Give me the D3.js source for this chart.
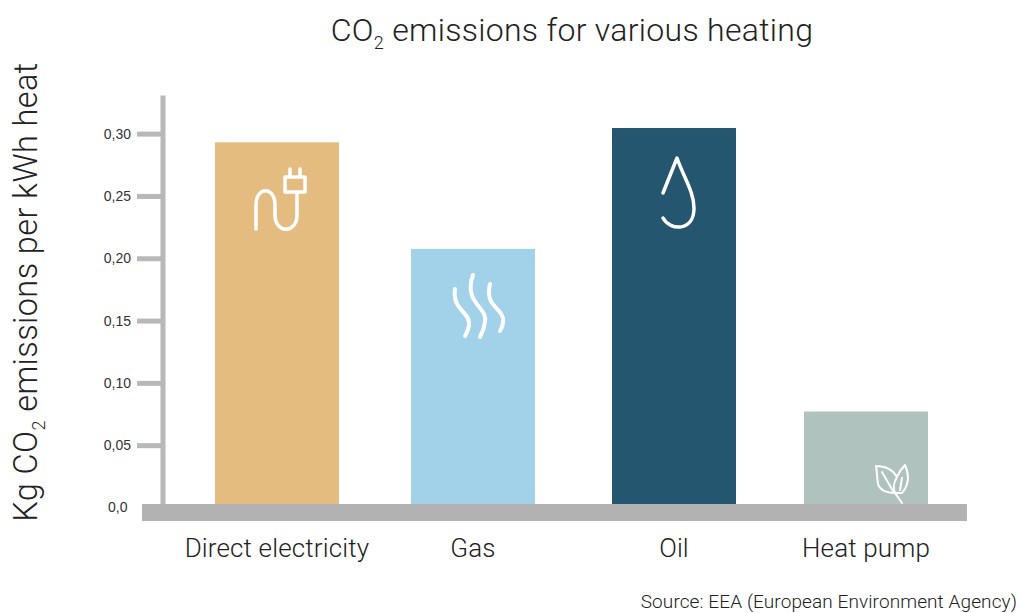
<!DOCTYPE html>
<html>
<head>
<meta charset="utf-8">
<script src="https://cdn.jsdelivr.net/npm/d3@7"></script>
<style>
  html, body { margin: 0; background: #fff; }
  svg { display: block; }
  text { font-family: Roboto, "Liberation Sans", sans-serif; font-weight: 300; fill: #222; }
  .tick text { font-family: "Liberation Sans", sans-serif; font-weight: 400; font-size: 14px; fill: #333; }
</style>
</head>
<body>
<svg id="chart" width="1019" height="613"></svg>
<script>
const categories = ["Direct electricity", "Gas", "Oil", "Heat pump"];
const emissions = [0.293, 0.2075, 0.3045, 0.077];
const barColors = ["#e4bc80", "#a1d2ea", "#24566f", "#b0c2be"];
const tickValues = [0, 0.05, 0.10, 0.15, 0.20, 0.25, 0.30];
const tickLabels = ["0,0", "0,05", "0,10", "0,15", "0,20", "0,25", "0,30"];

const width = 1019, height = 613;
const barWidth = 124;
const svg = d3.select("#chart");

const x = d3.scaleOrdinal().domain(categories).range([215, 411, 612, 804]);
const y = d3.scaleLinear().domain([0, 0.331]).range([507.5, 95]);
const color = d3.scaleOrdinal().domain(categories).range(barColors);

// title, with the subscript as a tspan
const title = svg.append("text")
    .attr("x", 572).attr("y", 41)
    .attr("text-anchor", "middle")
    .attr("font-size", 32)
    .attr("letter-spacing", 0.3);
title.append("tspan").text("CO");
title.append("tspan").attr("font-size", 18).attr("dy", 8).text("2");
title.append("tspan").attr("dy", -8).text(" emissions for various heating");

const yTitle = svg.append("text")
    .attr("transform", "translate(37,292) rotate(-90)")
    .attr("text-anchor", "middle")
    .attr("font-size", 32.5)
    .attr("letter-spacing", 0.4);
yTitle.append("tspan").text("Kg CO");
yTitle.append("tspan").attr("font-size", 18).attr("dy", 8).text("2");
yTitle.append("tspan").attr("dy", -8).text(" emissions per kWh heat");

// y axis
const axis = svg.append("g")
    .attr("transform", "translate(162.5,0)")
    .call(d3.axisLeft(y)
      .tickValues(tickValues)
      .tickFormat(function (d, i) { return tickLabels[i] })
      .tickSize(25.5)
      .tickSizeOuter(0)
      .tickPadding(6));
axis.selectAll("path, line").attr("stroke", "#b8b8b8").attr("stroke-width", 5);
axis.selectAll(".tick").filter(function (d) { return d === 0 }).select("line").remove();
axis.selectAll(".tick").filter(function (d) { return d === 0 }).select("text").attr("x", -35);

// bars
svg.append("g")
  .selectAll("rect")
  .data(categories)
  .join("rect")
    .attr("x", function (d) { return x(d) })
    .attr("y", function (d, i) { return y(emissions[i]) })
    .attr("width", barWidth)
    .attr("height", function (d, i) { return y(0) - y(emissions[i]) })
    .attr("fill", function (d) { return color(d) });

// floor band
svg.append("rect")
    .attr("x", 142).attr("y", 504)
    .attr("width", 825).attr("height", 17)
    .attr("fill", "#b2b2b2");

svg.append("g")
    .attr("text-anchor", "middle")
    .attr("font-size", 26)
    .attr("letter-spacing", 0.15)
  .selectAll("text")
  .data(categories)
  .join("text")
    .attr("x", function (d) { return x(d) + barWidth / 2 })
    .attr("y", 557)
    .text(function (d) { return d });

svg.append("text")
    .attr("x", 1017).attr("y", 608)
    .attr("text-anchor", "end")
    .attr("font-size", 19)
    .attr("letter-spacing", 0.1)
    .text("Source: EEA (European Environment Agency)");

// icons on the bars
const icons = svg.append("g")
    .attr("fill", "none")
    .attr("stroke", "#fff")
    .attr("stroke-linecap", "round")
    .attr("stroke-linejoin", "round");

icons.append("path")
    .attr("stroke-width", 3.5)
    .attr("d", "M256,229V205C256,186 275,186 275,205V215C275,234 297,234 297,215V192"
      + "M285,177H305V192H285ZM290,177V169M300,177V169");

icons.append("path")
    .attr("stroke-width", 4)
    .attr("d", "M455,289C452,310 470,312 469,324C469,329 467,332 465,336"
      + "M473,275C463,303 488,307 485,322C484,329 482,333 480,337"
      + "M490,284C484,308 505,308 503,322C503,325 502,328 500,331");

icons.append("path")
    .attr("stroke-width", 3.5)
    .attr("d", "M663,193L677,158C684,178 694,192 694,208C694,232 670,231 663,218");

icons.append("path")
    .attr("stroke-width", 2)
    .attr("d", "M876,466C886,466 893,470 897,477C893,484 893,488 895,493C886,493 880,490 878,484C877,478 877,472 876,466Z"
      + "M897,477C899,472 902,468 905,465C908,472 909,478 907,484C906,488 904,491 902,493L895,493L902,503"
      + "M882,472L893,491M902,478L900,490");
</script>
</body>
</html>
